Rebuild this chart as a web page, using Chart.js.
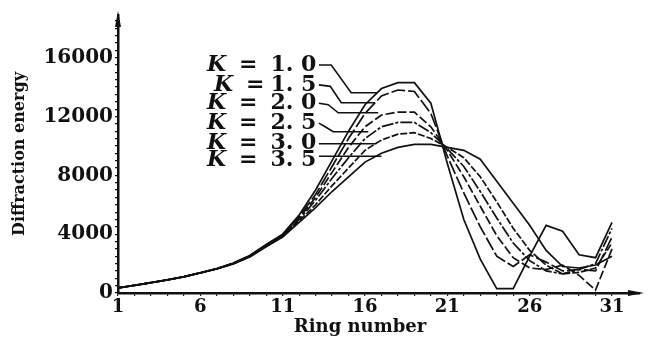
<!DOCTYPE html>
<html lang="en">
<head>
  <meta charset="UTF-8">
  <title>Diffraction energy by ring</title>
  <script src="https://cdn.jsdelivr.net/npm/chart.js"></script>
  <style>
    * { margin: 0; padding: 0; box-sizing: border-box; }
    body { background: #fff; width: 649px; height: 343px; overflow: hidden; }
    canvas { display: block; }
  </style>
</head>
<body>
  <canvas id="diffChart" width="649" height="343"></canvas>

  <script>
    // ring numbers 1..31
    const rings = [1, 2, 3, 4, 5, 6, 7, 8, 9, 10, 11, 12, 13, 14, 15, 16,
                   17, 18, 19, 20, 21, 22, 23, 24, 25, 26, 27, 28, 29, 30, 31];

    // diffraction energy per ring, one array per K value
    const k10 = [350, 520, 700, 890, 1110, 1380, 1660, 2030, 2550, 3300, 4000,
                 5300, 7000, 9000, 11000, 12800, 13900, 14300, 14300, 12900,
                 8800, 5000, 2300, 300, 300, 2500, 4600, 4200, 2600, 2400, 4800];
    const k15 = [350, 520, 700, 890, 1110, 1380, 1655, 2020, 2530, 3270, 3960,
                 5200, 6700, 8600, 10500, 12200, 13400, 13800, 13700, 12200,
                 9300, 6800, 4500, 2500, 1800, 2600, 2100, 1500, 1600, 1500, 3800];
    const k20 = [350, 520, 700, 890, 1105, 1375, 1650, 2010, 2510, 3240, 3920,
                 5100, 6500, 8200, 9900, 11300, 12100, 12300, 12300, 11300,
                 9700, 7900, 5900, 3900, 2400, 1700, 1600, 1900, 1200, 200, 3000];
    const k25 = [350, 520, 700, 890, 1105, 1370, 1645, 2000, 2490, 3210, 3880,
                 5000, 6300, 7800, 9200, 10500, 11300, 11600, 11600, 10900,
                 9800, 8600, 6900, 5100, 3400, 2200, 1500, 1300, 1600, 2000, 4400];
    const k30 = [350, 520, 700, 890, 1100, 1365, 1640, 1990, 2470, 3180, 3840,
                 4900, 6000, 7300, 8500, 9700, 10400, 10800, 10900, 10500,
                 9900, 9200, 7900, 6200, 4400, 2900, 1900, 1300, 1400, 1700, 3400];
    const k35 = [350, 520, 700, 890, 1100, 1360, 1635, 1980, 2450, 3150, 3800,
                 4800, 5800, 6900, 7900, 8900, 9500, 9900, 10100, 10100,
                 9900, 9700, 9100, 7600, 6100, 4600, 2900, 1800, 1700, 1900, 2500];

    const seriesNames = ['1. 0', '1. 5', '2. 0', '2. 5', '3. 0', '3. 5'];
    const xTicks = [1, 6, 11, 16, 21, 26, 31];
    const yTicks = [0, 4000, 8000, 12000, 16000];

    const INK = '#111';
    const SERIF = '"DejaVu Serif", "Liberation Serif", serif';

    const allSeries = [k10, k15, k20, k25, k30, k35];
    const dashes = [[], [14, 3], [9, 3], [12, 2, 3, 2], [7, 2], []];

    const datasets = allSeries.map((vals, i) => ({
      label: 'K = ' + seriesNames[i],
      data: rings.map((r, j) => ({ x: r, y: vals[j] })),
      borderColor: INK,
      borderWidth: 1.7,
      borderDash: dashes[i],
      pointRadius: 0,
      tension: 0,
      fill: false
    }));

    // label rows with leader lines, in (ring, energy) units
    const leaders = [
      [[13.2, 15500], [13.95, 15500], [15.16, 13610], [16.75, 13610]],
      [[13.2, 14150], [13.89, 14050], [14.56, 12930], [16.6, 12930]],
      [[13.2, 12900], [13.77, 12800], [14.37, 12250], [16.8, 12250]],
      [[13.2, 11550], [13.58, 11300], [14.07, 10960], [16.2, 10960]],
      [[13.2, 10150], [16.68, 10150]],
      [[13.2, 9300], [17.0, 9300]]
    ];
    const rowValues = [15500, 14150, 12900, 11550, 10150, 9000];

    const decorations = {
      id: 'decorations',
      afterDraw(chart) {
        const ctx = chart.ctx;
        const xs = chart.scales.x, ys = chart.scales.y;
        const area = chart.chartArea;
        ctx.save();

        // arrow heads on axes
        ctx.fillStyle = INK;
        ctx.beginPath();
        ctx.moveTo(area.right + 4, area.bottom);
        ctx.lineTo(area.right - 12, area.bottom - 3);
        ctx.lineTo(area.right - 12, area.bottom + 3);
        ctx.closePath();
        ctx.fill();
        ctx.beginPath();
        ctx.moveTo(area.left, area.top - 4);
        ctx.lineTo(area.left - 3, area.top + 12);
        ctx.lineTo(area.left + 3, area.top + 12);
        ctx.closePath();
        ctx.fill();

        // x title
        ctx.font = 'bold 18px ' + SERIF;
        ctx.textAlign = 'center';
        ctx.textBaseline = 'middle';
        ctx.fillText('Ring number', 360, 327);

        // K labels
        ctx.textBaseline = 'middle';
        seriesNames.forEach((name, i) => {
          const y = ys.getPixelForValue(rowValues[i]);
          const x0 = i === 1 ? 214 : 207;
          ctx.textAlign = 'left';
          ctx.font = 'italic bold 22px ' + SERIF;
          ctx.fillText('K', x0, y);
          ctx.font = 'bold 22px ' + SERIF;
          ctx.fillText('=', x0 + 32, y);
          ctx.textAlign = 'right';
          ctx.fillText(name, xs.getPixelForValue(13.05), y);
        });

        // leader lines
        ctx.strokeStyle = INK;
        ctx.lineWidth = 1.6;
        leaders.forEach(path => {
          ctx.beginPath();
          path.forEach(([r, v], j) => {
            const px = xs.getPixelForValue(r), py = ys.getPixelForValue(v);
            if (j === 0) ctx.moveTo(px, py); else ctx.lineTo(px, py);
          });
          ctx.stroke();
        });
        ctx.restore();
      }
    };

    new Chart(document.getElementById('diffChart'), {
      type: 'line',
      data: { datasets },
      options: {
        responsive: false,
        animation: false,
        events: [],
        layout: { padding: { left: 0, top: 15, right: 9, bottom: 0 } },
        plugins: { legend: { display: false }, tooltip: { enabled: false } },
        scales: {
          x: {
            type: 'linear',
            min: 1,
            max: 32.7,
            afterBuildTicks: s => {
              const t = [];
              for (let r = 1; r <= 32; r++) t.push({ value: r });
              s.ticks = t;
            },
            afterFit: s => { s.height = 50; },
            ticks: {
              autoSkip: false,
              maxRotation: 0,
              color: INK,
              padding: 1,
              font: { family: SERIF, size: 18, weight: 'bold' },
              callback: v => xTicks.includes(v) ? String(v) : ''
            },
            grid: { drawOnChartArea: false, tickLength: 3, color: INK, lineWidth: 1.2 },
            border: { color: INK, width: 2.5 }
          },
          y: {
            min: 0,
            max: 18900,
            afterBuildTicks: s => {
              const t = [];
              for (let v = 0; v <= 18500; v += 500) t.push({ value: v });
              s.ticks = t;
            },
            afterFit: s => { s.width = 118; },
            ticks: {
              autoSkip: false,
              color: INK,
              padding: 2,
              font: { family: SERIF, size: 20, weight: 'bold' },
              callback: v => yTicks.includes(v) ? String(v) : ''
            },
            grid: { drawOnChartArea: false, tickLength: 3, color: INK, lineWidth: 1.2 },
            border: { color: INK, width: 2.5 },
            title: {
              display: true,
              text: 'Diffraction energy',
              color: INK,
              padding: { top: 10, bottom: 0 },
              font: { family: SERIF, size: 16, weight: 'bold' }
            }
          }
        }
      },
      plugins: [decorations]
    });
  </script>
</body>
</html>
